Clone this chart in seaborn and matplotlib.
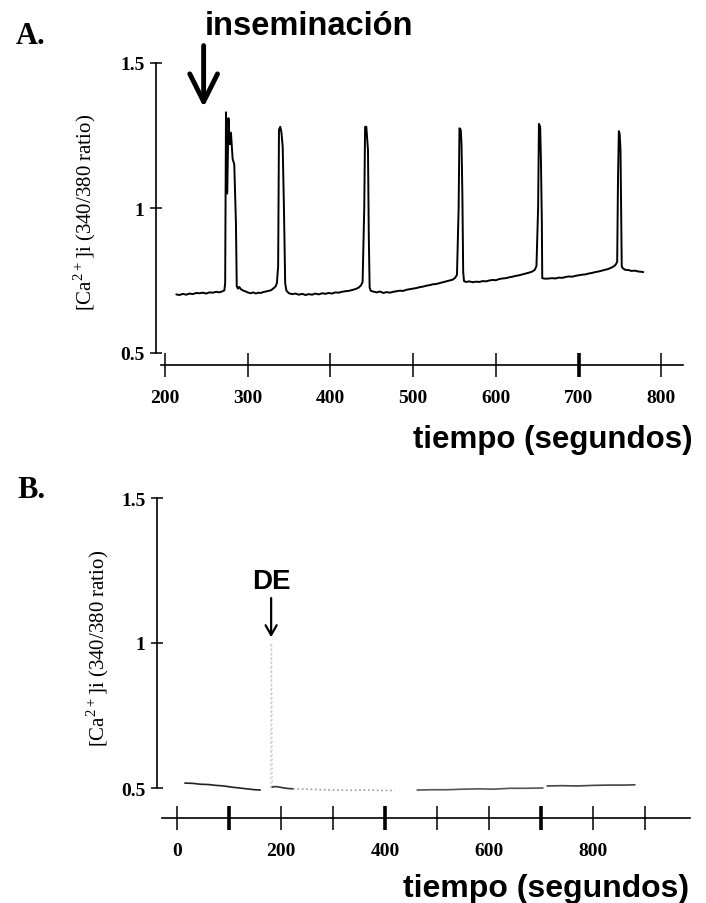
# Registro de [Ca2+]i: A. tras inseminación, B. tras DE

import pandas as pd
import matplotlib.pyplot as plt
import seaborn as sns

# ---- datos panel A (tiempo en s, cociente 340/380) ----
tiempo_a = [214, 218, 222, 226, 230, 234, 238, 242, 246, 250, 254, 258, 262, 266, 270, 272,
            273, 274, 275.5, 277, 278.5, 280, 282, 284, 286, 287, 288.5, 290, 292, 295, 298,
            301, 304, 307, 310, 313, 316, 319, 322, 325, 328, 331, 334, 335.5,
            337, 338, 339.5, 341, 342.5, 344, 345.5, 347, 350, 354, 358, 362, 366, 370, 374,
            378, 382, 386, 390, 394, 398, 402, 406, 410, 414, 418, 422, 426, 430, 434, 437, 439,
            441, 442, 443.5, 444.5, 445.5, 446.5, 447.5, 449, 452, 456, 460, 464, 468, 472,
            476, 480, 484, 488, 492, 496, 500, 504, 508, 512, 516, 520, 524, 528, 532, 536,
            540, 544, 548, 551, 553,
            555, 556, 557.5, 558.5, 559.5, 560.5, 561.5, 564, 568, 572, 576, 580, 584, 588,
            592, 596, 600, 604, 608, 612, 616, 620, 624, 628, 632, 636, 640, 644, 647, 649,
            651, 652, 653.5, 654.5, 655.5, 656, 660, 664, 668, 672, 676, 680, 684, 688, 692,
            696, 700, 704, 708, 712, 716, 720, 724, 728, 732, 736, 740, 743, 745, 746.5,
            747.5, 748.5, 749.5, 750.5, 751.5, 752, 753, 756, 760, 764, 768, 772, 776, 778]
ratio_a = [0.702, 0.700, 0.704, 0.701, 0.705, 0.703, 0.707, 0.706, 0.708, 0.705, 0.709, 0.708,
           0.711, 0.709, 0.713, 0.716,
           0.74, 1.33, 1.05, 1.31, 1.22, 1.26, 1.17, 1.15, 0.95, 0.73, 0.722, 0.728, 0.72,
           0.715, 0.712, 0.708, 0.706, 0.709, 0.705, 0.708, 0.707, 0.710, 0.712, 0.714, 0.716,
           0.722, 0.73, 0.742,
           0.80, 1.27, 1.28, 1.26, 1.21, 1.00, 0.74, 0.715, 0.706, 0.703, 0.705, 0.701, 0.704,
           0.700, 0.703, 0.701, 0.705, 0.702, 0.706, 0.704, 0.707, 0.705, 0.709, 0.708, 0.711,
           0.713, 0.714, 0.717, 0.720, 0.725, 0.733, 0.745,
           1.00, 1.28, 1.28, 1.24, 1.20, 0.90, 0.725, 0.714, 0.712, 0.709, 0.712, 0.707, 0.710,
           0.708, 0.711, 0.713, 0.715, 0.714, 0.718, 0.720, 0.722, 0.724, 0.727, 0.729, 0.732,
           0.734, 0.737, 0.738, 0.741, 0.744, 0.747, 0.750, 0.753, 0.760, 0.770,
           1.00, 1.275, 1.27, 1.22, 1.05, 0.78, 0.748, 0.745, 0.747, 0.744, 0.746, 0.745, 0.748,
           0.747, 0.750, 0.752, 0.751, 0.755, 0.757, 0.758, 0.761, 0.763, 0.766, 0.768, 0.771,
           0.774, 0.777, 0.781, 0.787, 0.800,
           1.00, 1.29, 1.28, 1.15, 0.95, 0.758, 0.756, 0.757, 0.758, 0.757, 0.760, 0.759, 0.762,
           0.764, 0.763, 0.766, 0.768, 0.770, 0.771, 0.774, 0.776, 0.779, 0.781, 0.784, 0.787,
           0.790, 0.795, 0.800, 0.806, 0.815,
           1.10, 1.265, 1.255, 1.20, 0.95, 0.80, 0.793, 0.787, 0.786, 0.783, 0.784, 0.781,
           0.780, 0.779]

# ---- datos panel B, por tramos ----
tiempo_b1 = [15, 30, 45, 60, 75, 90, 105, 120, 135, 150, 160]
ratio_b1 = [0.517, 0.516, 0.513, 0.512, 0.509, 0.507, 0.503, 0.500, 0.497, 0.494, 0.493]
tiempo_de = [180, 181.5, 183]
ratio_de = [0.50, 1.00, 0.50]
tiempo_b2 = [183, 190, 200, 210, 223]
ratio_b2 = [0.503, 0.505, 0.502, 0.499, 0.497]
tiempo_b3 = [223, 250, 280, 310, 340, 370, 400, 419]
ratio_b3 = [0.497, 0.496, 0.494, 0.493, 0.492, 0.493, 0.491, 0.492]
tiempo_b4 = [462, 490, 520, 550, 580, 610, 640, 670, 704]
ratio_b4 = [0.493, 0.494, 0.494, 0.496, 0.497, 0.496, 0.499, 0.499, 0.500]
tiempo_b5 = [712, 740, 770, 800, 830, 860, 881]
ratio_b5 = [0.507, 0.508, 0.507, 0.509, 0.510, 0.510, 0.511]

ticks_a = [200, 300, 400, 500, 600, 700, 800]
ticks_b = [0, 100, 200, 300, 400, 500, 600, 700, 800, 900]
etiq_b = ['0', '', '200', '', '400', '', '600', '', '800', '']
ticks_y = [0.5, 1, 1.5]
etiq_y = ['0.5', '1', '1.5']

sns.set_style("ticks")
plt.rcParams['font.family'] = ['Liberation Serif', 'DejaVu Serif']
plt.rcParams['mathtext.fontset'] = 'custom'
plt.rcParams['mathtext.rm'] = 'Liberation Serif'
for k in ['text.color', 'axes.edgecolor', 'axes.labelcolor', 'xtick.color', 'ytick.color']:
    plt.rcParams[k] = 'black'

W, H = 706, 904
fig = plt.figure(figsize=(W / 100, H / 100), dpi=100)


def caja(x0, x1, ytop, ybot):
    return [x0 / W, 1 - ybot / H, (x1 - x0) / W, (ybot - ytop) / H]


ax_a = fig.add_axes(caja(161, 683, 64, 354))
ax_b = fig.add_axes(caja(162, 690, 499, 789))

df_a = pd.DataFrame({'t': tiempo_a, 'r': ratio_a})
sns.lineplot(data=df_a, x='t', y='r', ax=ax_a, color='black', lw=1.4, estimator=None, sort=False)

tramos = [(tiempo_b1, ratio_b1, '#222222', '-'),
          (tiempo_de, ratio_de, '#d0d0d0', ':'),
          (tiempo_b2, ratio_b2, '#333333', '-'),
          (tiempo_b3, ratio_b3, '#9a9a9a', ':'),
          (tiempo_b4, ratio_b4, '#555555', '-'),
          (tiempo_b5, ratio_b5, '#444444', '-')]
for t, r, c, ls in tramos:
    sns.lineplot(x=t, y=r, ax=ax_b, color=c, lw=1.2, ls=ls, estimator=None, sort=False)
for ln in ax_b.get_lines():
    ln.set_clip_on(False)

ax_a.set_xlim(195.5, 826)
ax_b.set_xlim(-29, 987)

for ax, off_x, ticks, etiq in [(ax_a, 12, ticks_a, [str(v) for v in ticks_a]),
                                 (ax_b, 30, ticks_b, etiq_b)]:
    ax.set_ylim(0.5, 1.5)
    sns.despine(ax=ax)
    ax.spines['bottom'].set_position(('outward', off_x * 0.72))
    ax.spines['left'].set_position(('outward', 3.5))
    ax.spines['left'].set_linewidth(1.2)
    ax.spines['bottom'].set_linewidth(1.2)
    ax.set_xticks(ticks, labels=etiq)
    ax.set_yticks(ticks_y, labels=etiq_y)
    ax.tick_params(axis='x', direction='inout', length=17, width=1.1, pad=9,
                   labelsize=14, color='black', labelcolor='black')
    ax.tick_params(axis='y', direction='inout', length=9, width=1.1, pad=4,
                   labelsize=14, color='black', labelcolor='black')
    for lab in ax.get_xticklabels() + ax.get_yticklabels():
        lab.set_fontweight('bold')
    ax.set_xlabel('')
    ax.set_ylabel('')

# marcas gruesas
ax_a.xaxis.get_major_ticks()[5].tick1line.set_markeredgewidth(2.6)
for i in [1, 4, 7]:
    ax_b.xaxis.get_major_ticks()[i].tick1line.set_markeredgewidth(2.6)

# etiquetas del eje y
ylab = '[Ca$^{\\mathrm{2+}}$]i (340/380 ratio)'
fig.text(85 / W, 1 - 212 / H, ylab, rotation=90, ha='center', va='center', fontsize=15)
fig.text(98 / W, 1 - 648 / H, ylab, rotation=90, ha='center', va='center', fontsize=15)

# letras de panel
fig.text(31 / W, 1 - 36 / H, 'A.', ha='center', va='center', fontsize=22, fontweight='bold')
fig.text(32 / W, 1 - 491 / H, 'B.', ha='center', va='center', fontsize=22, fontweight='bold')

# títulos del eje x
for xc, yb, fs in [(553, 448, 22.5), (546, 897, 23)]:
    fig.text(xc / W, 1 - yb / H, 'tiempo (segundos)', ha='center', va='baseline',
             fontsize=fs, fontweight='bold', family='Liberation Sans')

# anotaciones
ax_a.text(374, 1.631, 'inseminación', ha='center', va='center', fontsize=23.5,
          fontweight='bold', family='Liberation Sans', clip_on=False)
ax_a.annotate('', xy=(247, 1.348), xytext=(247, 1.56), annotation_clip=False,
              arrowprops=dict(arrowstyle='->, head_length=1.0, head_width=0.5',
                              lw=3.5, color='black', mutation_scale=20,
                              shrinkA=0, shrinkB=0))
ax_b.text(181, 1.214, 'DE', ha='center', va='center', fontsize=20,
          fontweight='bold', family='Liberation Sans', clip_on=False)
ax_b.annotate('', xy=(181, 1.02), xytext=(181, 1.155), annotation_clip=False,
              arrowprops=dict(arrowstyle='->, head_length=0.7, head_width=0.4',
                              lw=1.6, color='black', mutation_scale=10,
                              shrinkA=0, shrinkB=0))

plt.savefig('out.png', dpi=100)
